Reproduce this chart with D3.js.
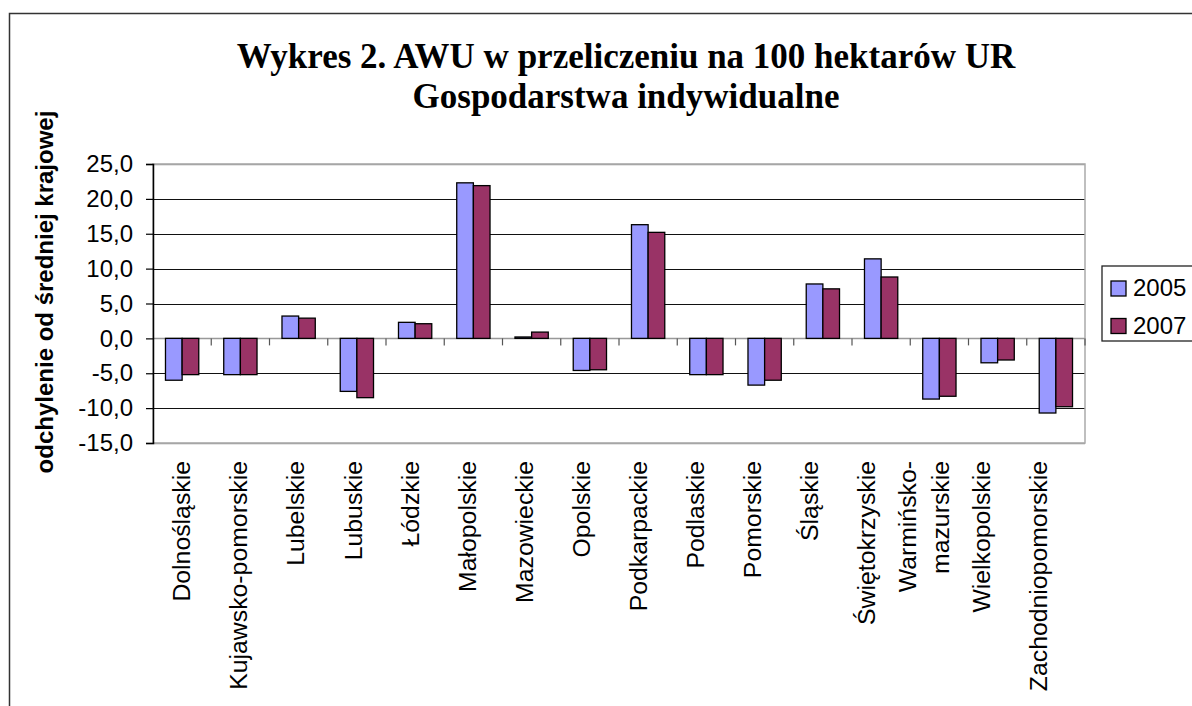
<!DOCTYPE html>
<html>
<head>
<meta charset="utf-8">
<script src="https://cdn.jsdelivr.net/npm/d3@7"></script>
<style>
  body { margin: 0; background: #fff; }
  text { font-family: "Liberation Sans", Arial, sans-serif; }
</style>
</head>
<body>
<svg id="graph"></svg>
<script>
var width = 1192, height = 706;

// dane
var regions = ["Dolnośląskie", "Kujawsko-pomorskie", "Lubelskie", "Lubuskie", "Łódzkie",
  "Małopolskie", "Mazowieckie", "Opolskie", "Podkarpackie", "Podlaskie", "Pomorskie",
  "Śląskie", "Świętokrzyskie", "Warmińsko-mazurskie", "Wielkopolskie", "Zachodniopomorskie"];
var years = ["2005", "2007"];
var v2005 = [-6.0, -5.2, 3.2, -7.6, 2.3, 22.3, 0.2, -4.6, 16.3, -5.2, -6.7, 7.8, 11.4, -8.7, -3.5, -10.7];
var v2007 = [-5.2, -5.2, 2.9, -8.5, 2.1, 21.9, 0.9, -4.5, 15.2, -5.2, -6.0, 7.1, 8.8, -8.3, -3.1, -9.8];
var yTicks = [-15, -10, -5, 0, 5, 10, 15, 20, 25];
var color = ["#9999FF", "#993366"];

var svg = d3.select("#graph")
  .attr("width", width)
  .attr("height", height);

// ramka wykresu
svg.append("rect")
  .attr("x", 9.5).attr("y", 13.5)
  .attr("width", width + 20).attr("height", height + 20)
  .attr("fill", "none")
  .attr("stroke", "#333")
  .attr("stroke-width", 1.5);

var pLeft = 153, pRight = 1085, pTop = 164, pBottom = 443;

var x = d3.scaleBand().domain(regions).range([pLeft, pRight]);
var xs = d3.scaleBand().domain(years).range([0, x.bandwidth()]).paddingOuter(0.75);
var y = d3.scaleLinear().domain([-15, 25]).range([pBottom, pTop]);
// etykiety kategorii sa w Excelu nieco gesciej
var xl = d3.scalePoint().domain(regions).range([pLeft + x.bandwidth() / 2 - 0.5, pRight - 47]);

var pl = d3.formatLocale({decimal: ",", thousands: " ", grouping: [3], currency: ["", " zł"], minus: "-"});
var fmt = pl.format(".1f");

// tytul
var title = svg.append("text")
  .attr("x", 626)
  .attr("text-anchor", "middle")
  .style("font-family", "'Liberation Serif', 'Times New Roman', serif")
  .attr("font-weight", "bold")
  .attr("font-size", "35px");
title.append("tspan").attr("x", 626).attr("y", 68).text("Wykres 2. AWU w przeliczeniu na 100 hektarów UR");
title.append("tspan").attr("x", 626).attr("y", 108).text("Gospodarstwa indywidualne");

// linie siatki
svg.append("g")
  .selectAll("line")
  .data(yTicks)
  .enter()
  .append("line")
  .attr("x1", pLeft).attr("x2", pRight)
  .attr("y1", d => Math.round(y(d)) + 0.5)
  .attr("y2", d => Math.round(y(d)) + 0.5)
  .attr("stroke", d => (d == 25 || d == -15 || d == 0) ? "#999" : "#111")
  .attr("stroke-width", d => (d == 25 || d == -15 || d == 0) ? 1.5 : 1);

// obramowanie obszaru
svg.append("rect")
  .attr("x", pLeft).attr("y", pTop)
  .attr("width", pRight - pLeft).attr("height", pBottom - pTop)
  .attr("fill", "none")
  .attr("stroke", "#aaa")
  .attr("stroke-width", 1.5);

// slupki
var groups = svg.append("g")
  .selectAll("g")
  .data(regions)
  .enter()
  .append("g")
  .attr("transform", d => "translate(" + x(d) + ",0)");

groups.selectAll("rect")
  .data((d, i) => [v2005[i], v2007[i]])
  .enter()
  .append("rect")
  .attr("x", (d, i) => xs(years[i]))
  .attr("width", xs.bandwidth())
  .attr("y", d => y(Math.max(0, d)))
  .attr("height", d => Math.abs(y(d) - y(0)))
  .attr("fill", (d, i) => color[i])
  .attr("stroke", "#000")
  .attr("stroke-width", 1.3);

// os X - znaczniki
svg.append("g")
  .selectAll("line")
  .data(regions.slice(1).concat(["end"]))
  .enter()
  .append("line")
  .attr("x1", (d, i) => pLeft + x.step() * (i + 1))
  .attr("x2", (d, i) => pLeft + x.step() * (i + 1))
  .attr("y1", y(0))
  .attr("y2", y(0) + 7)
  .attr("stroke", "#555")
  .attr("stroke-width", 1.2);

// os Y
var yAxis = d3.axisLeft(y)
  .tickValues(yTicks)
  .tickSize(7)
  .tickPadding(13)
  .tickFormat(fmt);

var gy = svg.append("g")
  .attr("transform", "translate(" + pLeft + ",0)")
  .call(yAxis);
gy.select(".domain").attr("stroke", "#000").attr("stroke-width", 1.5);
gy.selectAll(".tick line").attr("stroke", "#000").attr("stroke-width", 1.2);
gy.selectAll(".tick text")
  .attr("font-size", "24px")
  .attr("fill", "#000")
  .style("font-family", "'Liberation Sans', Arial, sans-serif");

// etykiety kategorii
var labels = svg.append("g")
  .selectAll("text")
  .data(regions)
  .enter()
  .append("text")
  .attr("transform", d => "translate(" + xl(d) + ",461) rotate(-90)")
  .attr("text-anchor", "end")
  .attr("font-size", "24.8px")
  .attr("fill", "#000");

labels.each(function (d) {
  var parts = d == "Warmińsko-mazurskie" ? ["Warmińsko-", "mazurskie"] : [d];
  var t = d3.select(this);
  parts.forEach(function (p, k) {
    t.append("tspan")
      .attr("x", 0)
      .attr("y", (k - (parts.length - 1) / 2) * 33)
      .attr("dy", "0.35em")
      .text(p);
  });
});

// tytul osi Y
svg.append("text")
  .attr("transform", "translate(53,292) rotate(-90)")
  .attr("text-anchor", "middle")
  .attr("font-size", "24px")
  .attr("font-weight", "bold")
  .text("odchylenie od średniej krajowej");

// legenda
var legend = svg.append("g");
legend.append("rect")
  .attr("x", 1102).attr("y", 266)
  .attr("width", 120).attr("height", 75)
  .attr("fill", "#fff")
  .attr("stroke", "#222")
  .attr("stroke-width", 1.3);

var li = legend.selectAll(".item")
  .data(years)
  .enter()
  .append("g")
  .attr("class", "item")
  .attr("transform", (d, i) => "translate(1111," + (281 + i * 37.5) + ")");
li.append("rect")
  .attr("width", 15).attr("height", 15)
  .attr("fill", (d, i) => color[i])
  .attr("stroke", "#000")
  .attr("stroke-width", 1.3);
li.append("text")
  .attr("x", 22).attr("y", 15)
  .attr("font-size", "24px")
  .text(d => d);
</script>
</body>
</html>
